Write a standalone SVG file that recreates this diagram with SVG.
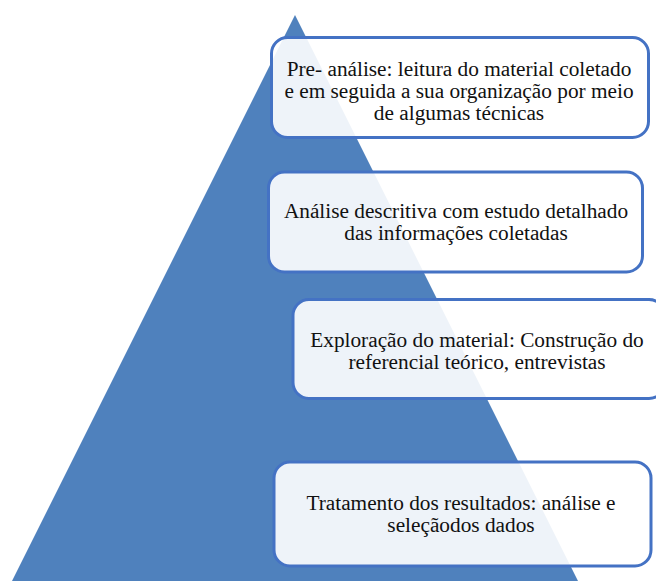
<svg xmlns="http://www.w3.org/2000/svg" width="656" height="581" viewBox="0 0 656 581">
<style>
.box{fill:#ffffff;fill-opacity:0.9;stroke:#4472C4;stroke-width:3}
.t{font-size:21.3px;fill:#111;text-anchor:middle}
</style>
<rect width="656" height="581" fill="#ffffff"/>
<g id="pyramid">
<polygon points="295,15 12,581 578,581" fill="#4F81BD"/>
</g>
<g id="connectors"></g>
<g font-family="Liberation Serif, DejaVu Serif, serif">
<g id="node1">
<rect class="box" x="271.5" y="37.5" width="377" height="100" rx="16"/>
<text class="t" x="459" y="76">Pre- análise: leitura do material coletado</text>
<text class="t" x="459" y="98">e em seguida a sua organização por meio</text>
<text class="t" x="459" y="120">de algumas técnicas</text>
</g>
<g id="node2">
<rect class="box" x="268.5" y="172" width="374" height="100" rx="16"/>
<text class="t" x="456" y="218">Análise descritiva com estudo detalhado</text>
<text class="t" x="456" y="240">das informações coletadas</text>
</g>
<g id="node3">
<rect class="box" x="293" y="299.5" width="372" height="99" rx="16"/>
<text class="t" x="477" y="347">Exploração do material: Construção do</text>
<text class="t" x="477" y="369">referencial teórico, entrevistas</text>
</g>
<g id="node4">
<rect class="box" x="274" y="462" width="377" height="104" rx="16"/>
<text class="t" x="461" y="510">Tratamento dos resultados: análise e</text>
<text class="t" x="461" y="532">seleçãodos dados</text>
</g>
</g>
</svg>
